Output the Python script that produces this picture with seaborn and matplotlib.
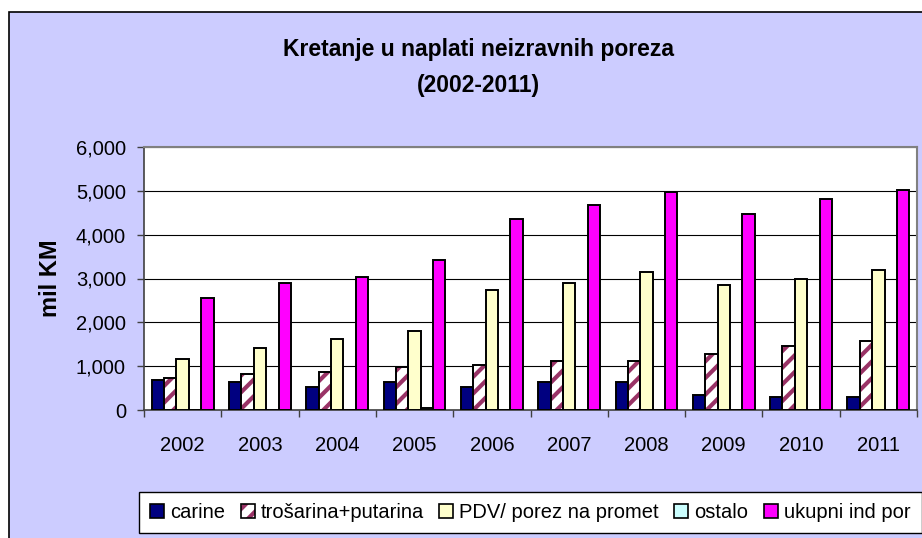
import pandas as pd
import seaborn as sns
import matplotlib.pyplot as plt
from matplotlib.patches import Patch, Rectangle
from matplotlib.legend_handler import HandlerTuple
from matplotlib.ticker import StrMethodFormatter, FixedLocator

godine = ["2002", "2003", "2004", "2005", "2006", "2007", "2008", "2009", "2010", "2011"]
carine = [680, 628, 529, 628, 529, 628, 628, 337, 291, 291]
trosarina = [728, 820, 874, 973, 1019, 1126, 1126, 1272, 1471, 1571]
pdv = [1172, 1418, 1617, 1808, 2743, 2897, 3142, 2851, 2996, 3188]
ostalo = [0, 0, 0, 46, 0, 0, 0, 0, 0, 0]
ukupno = [2544, 2889, 3042, 3433, 4360, 4667, 4966, 4467, 4812, 5011]

serije = ["carine", "trošarina+putarina", "PDV/ porez na promet", "ostalo", "ukupni ind por"]
boje = ["#000080", "#FFFFFF", "#FFFFCC", "#CCFFFF", "#FF00FF"]
hatch_boja = "#993366"
pozadina = "#CCCCFF"

df = pd.DataFrame({
    "godina": godine * 5,
    "vrsta": [s for s in serije for _ in godine],
    "vrijednost": carine + trosarina + pdv + ostalo + ukupno,
})

sns.set_theme(style="white")
plt.rcParams["font.family"] = ["Liberation Sans", "DejaVu Sans"]
plt.rcParams["text.color"] = "black"
plt.rcParams["axes.labelcolor"] = "black"
plt.rcParams["hatch.linewidth"] = 3.0

fig = plt.figure(figsize=(9.22, 5.38), dpi=100)
fig.patch.set_facecolor("white")
fig.patches.append(Rectangle((9 / 922, -0.05), 1.05, 1 - 12 / 538 + 0.05, transform=fig.transFigure,
                             facecolor=pozadina, edgecolor="black", linewidth=1.2, zorder=-1))

ax = fig.add_axes([144 / 922, 1 - 410 / 538, 773 / 922, 263 / 538])
ax.set_facecolor("white")
ax.set_zorder(1)

sns.barplot(data=df, x="godina", y="vrijednost", hue="vrsta", hue_order=serije, order=godine,
            palette=boje, saturation=1, edgecolor="black", linewidth=1.4, width=0.8,
            legend=False, ax=ax, zorder=3)

# srafura za trosarinu: boja srafure ide uz edgecolor, pa obrub crtamo posebno
for p in ax.containers[1]:
    p.set_hatch("//")
    p.set_edgecolor(hatch_boja)
    p.set_linewidth(0)
    ax.add_patch(Rectangle(p.get_xy(), p.get_width(), p.get_height(), fill=False,
                           edgecolor="black", linewidth=1.4, zorder=4))

ax.set_ylim(0, 6000)
ax.set_xlim(-0.5, len(godine) - 0.5)
ax.set_yticks(range(0, 6001, 1000))
ax.yaxis.set_major_formatter(StrMethodFormatter("{x:,.0f}"))
ax.yaxis.grid(True, color="black", linewidth=0.8)
ax.set_axisbelow(True)

ax.xaxis.set_minor_locator(FixedLocator([i - 0.5 for i in range(len(godine) + 1)]))
ax.tick_params(axis="x", which="major", length=0, pad=19, labelsize=14.5, colors="black")
ax.tick_params(axis="x", which="minor", length=5, width=1, color="#404040", direction="out", bottom=True)
ax.tick_params(axis="y", length=5, width=1, color="#404040", direction="out", left=True, pad=8,
               labelsize=14.5, labelcolor="black")

for s in ["left", "bottom"]:
    ax.spines[s].set_color("#404040")
    ax.spines[s].set_linewidth(1.2)
for s in ["top", "right"]:
    ax.spines[s].set_color("#808080")
    ax.spines[s].set_linewidth(1.5)

ax.set_xlabel("")
ax.set_ylabel("mil KM", fontsize=17, fontweight="bold", color="black")
ax.yaxis.set_label_coords(-0.106, 0.5)

fig.text(478 / 922, 1 - 56 / 538, "Kretanje u naplati neizravnih poreza", ha="center", va="baseline",
         fontsize=16.5, fontweight="bold", color="black")
fig.text(478 / 922, 1 - 92 / 538, "(2002-2011)", ha="center", va="baseline",
         fontsize=16.5, fontweight="bold", color="black")

handles = []
for i, s in enumerate(serije):
    if i == 1:
        handles.append((Patch(facecolor="white", edgecolor=hatch_boja, hatch="//", linewidth=0),
                        Patch(facecolor="none", edgecolor="black", linewidth=1.2)))
    else:
        handles.append(Patch(facecolor=boje[i], edgecolor="black", linewidth=1.2))

leg = fig.legend(handles, serije, loc="upper left", bbox_to_anchor=(139 / 922, 1 - 492 / 538),
                 ncol=5, fontsize=14.5, frameon=True, fancybox=False, edgecolor="black",
                 facecolor="white", framealpha=1, handlelength=0.7, handleheight=0.7,
                 handletextpad=0.3, columnspacing=0.76, borderpad=0.55, borderaxespad=0,
                 handler_map={tuple: HandlerTuple(ndivide=1, pad=0)})
leg.get_frame().set_linewidth(1.0)

fig.savefig("out.png", dpi=100, facecolor=fig.get_facecolor())
